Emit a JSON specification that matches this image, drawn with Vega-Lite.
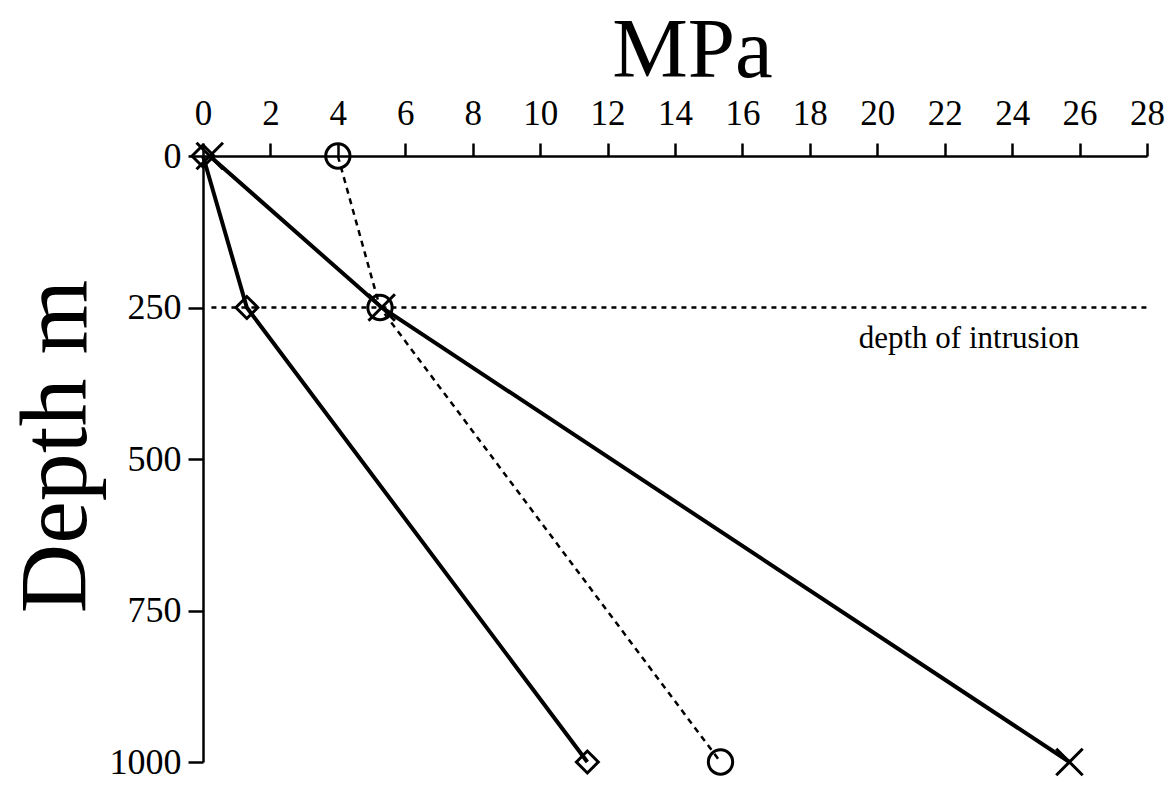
{
  "$schema": "https://vega.github.io/schema/vega-lite/v6.json",
  "width": 944,
  "height": 606,
  "autosize": {"type": "none"},
  "padding": {"left": 203, "top": 156, "right": 22, "bottom": 23},
  "background": "white",
  "config": {"view": {"stroke": null}, "font": "Liberation Serif"},
  "datasets": {
    "pts": [
      {"series": "diamond", "mpa": 0, "depth": 0},
      {"series": "diamond", "mpa": 1.3, "depth": 250},
      {"series": "diamond", "mpa": 11.4, "depth": 1000},
      {"series": "circle", "mpa": 4, "depth": 0},
      {"series": "circle", "mpa": 5.25, "depth": 250},
      {"series": "circle", "mpa": 15.35, "depth": 1000},
      {"series": "cross", "mpa": 0.2, "depth": 0},
      {"series": "cross", "mpa": 5.3, "depth": 250},
      {"series": "cross", "mpa": 25.7, "depth": 1000}
    ],
    "ref": [{"mpa": 0.25, "mpa2": 28, "depth": 250}],
    "lab": [{"mpa": 19.45, "depth": 317, "label": "depth of intrusion"}]
  },
  "encoding": {
    "x": {
      "field": "mpa", "type": "quantitative",
      "scale": {"domain": [0, 28], "nice": false, "zero": false},
      "axis": {
        "orient": "top", "values": [0,2,4,6,8,10,12,14,16,18,20,22,24,26,28],
        "format": "d",
        "grid": false, "domainColor": "black", "domainWidth": 2.5,
        "tickColor": "black", "tickWidth": 2.5, "tickSize": 13,
        "labelFont": "Liberation Serif", "labelFontSize": 35, "labelColor": "black",
        "labelPadding": 12, "labelFlush": false, "labelOverlap": false,
        "title": "MPa", "titleFont": "Liberation Serif", "titleFontSize": 85,
        "titleFontWeight": "normal", "titleColor": "black",
        "titleX": 489, "titleY": -80, "titleBaseline": "alphabetic", "titleAlign": "center"
      }
    },
    "y": {
      "field": "depth", "type": "quantitative",
      "scale": {"domain": [0, 1000], "reverse": true, "nice": false, "zero": false},
      "axis": {
        "values": [0, 250, 500, 750, 1000],
        "format": "d",
        "grid": false, "domainColor": "black", "domainWidth": 2.5,
        "tickColor": "black", "tickWidth": 2.5, "tickSize": 15,
        "labelFont": "Liberation Serif", "labelFontSize": 36, "labelColor": "black",
        "labelPadding": 7, "labelFlush": false, "labelOverlap": false,
        "title": "Depth m", "titleFont": "Liberation Serif", "titleFontSize": 96,
        "titleFontWeight": "normal", "titleColor": "black", "titleAngle": -90,
        "titleX": -118, "titleY": 290, "titleBaseline": "alphabetic", "titleAlign": "center"
      }
    }
  },
  "layer": [
    {
      "data": {"name": "ref"},
      "mark": {"type": "rule", "color": "black", "strokeWidth": 2.5, "strokeDash": [5, 5]},
      "encoding": {"x2": {"field": "mpa2"}}
    },
    {
      "data": {"name": "pts"},
      "transform": [{"filter": "datum.series !== 'circle'"}],
      "mark": {"type": "line", "color": "black", "strokeWidth": 4},
      "encoding": {"detail": {"field": "series"}}
    },
    {
      "data": {"name": "pts"},
      "transform": [{"filter": "datum.series === 'circle'"}],
      "mark": {"type": "line", "color": "black", "strokeWidth": 2.5, "strokeDash": [6, 5]},
      "encoding": {"detail": {"field": "series"}}
    },
    {
      "data": {"name": "pts"},
      "mark": {"type": "point", "filled": false, "color": "black", "strokeWidth": 3, "opacity": 1},
      "encoding": {
        "shape": {"field": "series", "type": "nominal", "legend": null,
          "scale": {"domain": ["diamond", "circle", "cross"], "range": ["diamond", "circle", "M-1,-1L1,1M-1,1L1,-1"]}},
        "size": {"field": "series", "type": "nominal", "legend": null,
          "scale": {"domain": ["diamond", "circle", "cross"], "range": [480, 700, 900]}}
      }
    },
    {
      "data": {"name": "lab"},
      "mark": {"type": "text", "align": "left", "baseline": "alphabetic", "font": "Liberation Serif", "fontSize": 31, "color": "black"},
      "encoding": {"text": {"field": "label"}}
    }
  ]
}
